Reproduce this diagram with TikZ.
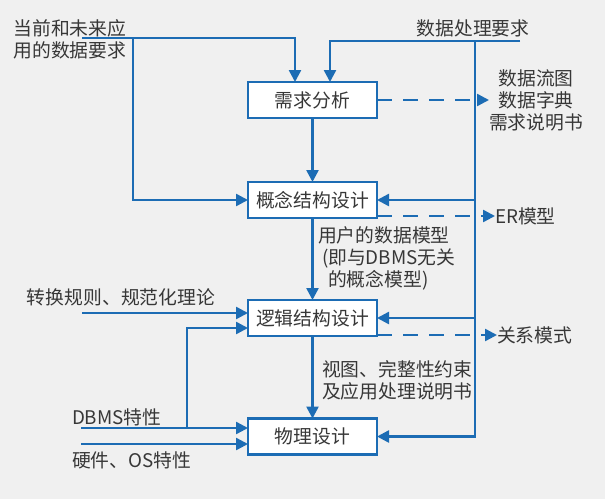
\documentclass[tikz,border=0pt]{standalone}
\usepackage{fontspec}
\setmainfont{Noto Sans CJK SC}
\usetikzlibrary{arrows.meta}
\definecolor{lblue}{RGB}{28,108,180}
\definecolor{txt}{RGB}{55,55,55}
\definecolor{bg}{RGB}{240,240,240}
\begin{document}
\begin{tikzpicture}[x=1pt,y=-1pt,
  font=\fontsize{18.8}{22}\selectfont, text=txt,
  box/.style={draw=lblue, line width=2.5pt, fill=white, minimum width=129pt, minimum height=36pt, inner sep=0pt, outer sep=0pt},
  lbl/.style={inner sep=0pt, outer sep=0pt},
  flow/.style={draw=lblue, line width=2.5pt, -{Triangle[length=12pt,width=12pt]}},
  dflow/.style={flow, dash pattern=on 15pt off 11pt}]
\fill[bg] (0,0) rectangle (605,499);
\useasboundingbox (0,0) rectangle (605,499);

\node[box] (r) at (312.5,100) {需求分析};
\node[box] (c) at (312.5,200) {概念结构设计};
\node[box] (l) at (312.5,318) {逻辑结构设计};
\node[box] (p) at (312.5,436.5) {物理设计};

\node[lbl,align=left] (t1) at (70,39) {当前和未来应\\用的数据要求};
\node[lbl] (t2) at (473,28) {数据处理要求};
\node[lbl,align=center] (o1) at (536,100) {数据流图\\数据字典\\需求说明书};
\node[lbl,anchor=west] (o2) at (495,216) {ER模型};
\node[lbl,anchor=west] (o3) at (497,335) {关系模式};
\node[lbl,anchor=west] (t3) at (27,297) {转换规则、规范化理论};
\node[lbl,anchor=west] (t4) at (72,417) {DBMS特性};
\node[lbl,anchor=west] (t5) at (72,460) {硬件、OS特性};
\node[lbl,anchor=west,align=left] (m1) at (318,258) {用户的数据模型\\\hspace{4pt}(即与DBMS无关\\\hspace{10pt}的概念模型)};
\node[lbl,anchor=west,align=left] (m2) at (322,380) {视图、完整性约束\\及应用处理说明书};

\coordinate (a1) at (82,38);
\coordinate (a2) at (133,38);
\coordinate (b1) at (520,41);
\coordinate (b2) at (475,41);
\coordinate (c1) at (82,313);
\coordinate (d1) at (81,428);
\coordinate (d2) at (187,428);
\coordinate (e1) at (81,444);

\draw[flow] (a1) -| ([xshift=-17.5pt]r.north);
\draw[flow] (a2) |- (c.west);
\draw[flow] (b1) -| ([xshift=17.5pt]r.north);
\draw[flow] (b2) |- (c.east);
\draw[flow] (b2) |- (l.east);
\draw[flow] (b2) |- (p.east);
\draw[flow] (r.south) -- (c.north);
\draw[flow] (c.south) -- (l.north);
\draw[flow] (l.south) -- (p.north);
\draw[dflow] (r.east) -- (r.east -| o1.west);
\draw[dflow] ([yshift=-16pt]c.east) -- (o2.west);
\draw[dflow] ([yshift=-17pt]l.east) -- (o3.west);
\draw[flow] (c1) -- (c1 -| l.west);
\draw[flow] (d1) -- (d1 -| p.west);
\draw[flow] (d2) |- ([yshift=-10pt]l.west);
\draw[flow] (e1) -- (e1 -| p.west);
\end{tikzpicture}
\end{document}
